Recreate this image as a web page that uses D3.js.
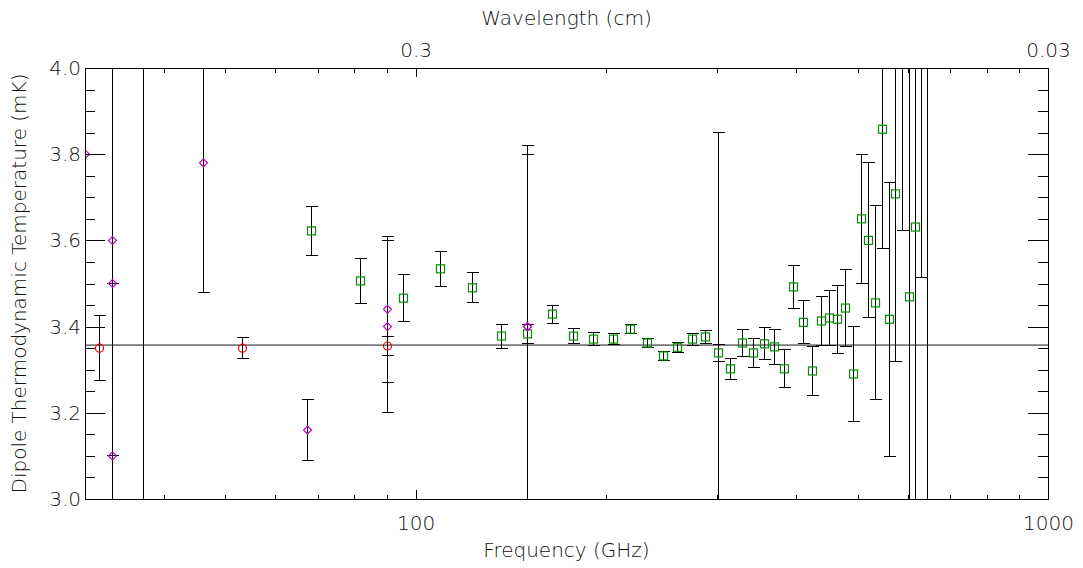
<!DOCTYPE html>
<html><head><meta charset="utf-8">
<script src="https://cdn.jsdelivr.net/npm/d3@7"></script>
<style>
body{margin:0;background:#fff;}
svg{display:block;}
text{font-family:"DejaVu Sans ExtraLight","DejaVu Sans",sans-serif;font-weight:200;font-size:20px;fill:#111;}
</style></head><body>
<svg id="c" width="1083" height="568"></svg>
<script>
// ---------- data ----------
// FIRAS-like points: green squares
const squareFreq = [68.4, 81.7, 95.6, 109.4, 122.9, 136.6, 150.1, 164.5, 177.5, 191.0,
  205.4, 218.5, 232.5, 246.4, 259.3, 273.9, 287.2, 301.1, 314.6, 328.6,
  342.1, 356.0, 369.3, 382.9, 395.7, 410.4, 424.0, 438.2, 451.1, 464.5,
  478.2, 492.3, 506.9, 520.0, 533.5, 547.3, 561.3, 573.7, 588.6, 603.8,
  617.2, 630.8, 644.8];
const squareT = [3.622, 3.506, 3.466, 3.534, 3.490, 3.378, 3.383, 3.429, 3.378, 3.371,
  3.371, 3.394, 3.362, 3.332, 3.352, 3.371, 3.376, 3.339, 3.302, 3.362,
  3.339, 3.360, 3.353, 3.302, 3.492, 3.410, 3.297, 3.413, 3.420, 3.417,
  3.443, 3.290, 3.650, 3.600, 3.455, 3.858, 3.417, 3.708, 4.250, 3.469,
  3.631, 4.300, 2.600];
const squareErr = [0.056, 0.053, 0.055, 0.040, 0.035, 0.028, 0.023, 0.021, 0.018, 0.015,
  0.012, 0.011, 0.010, 0.011, 0.012, 0.014, 0.016, 0.020, 0.024, 0.031,
  0.034, 0.037, 0.040, 0.044, 0.049, 0.050, 0.056, 0.056, 0.063, 0.079,
  0.090, 0.110, 0.150, 0.180, 0.225, 0.276, 0.318, 0.390, 0.628, 0.800,
  0.900, 0.785, 1.600];

// magenta diamonds
const diamondFreq = [30.0, 33.1, 33.1, 33.1, 46.1, 67.4, 90.2, 90.2, 150.1, 150.1];
const diamondT    = [3.80, 3.60, 3.50, 3.10, 3.78, 3.16, 3.44, 3.40, 3.40, 3.40];
const diamondErr  = [1.00, 0.50, 0.60, 0.40, 0.30, 0.07, 0.17, 0.20, 0.42, 0.40];

// red circles
const circleFreq = [31.6, 53.2, 90.2];
const circleT    = [3.350, 3.350, 3.355];
const circleErr  = [0.075, 0.024, 0.023];

// error bars whose symbols fall outside / are hidden
const hiddenFreq = [37.1, 301.1];
const hiddenT    = [3.50, 3.35];
const hiddenErr  = [1.00, 0.50];

// reference dipole level
const refT = 3.357;

// axes
const freqMajorTicks = [100, 1000];
const freqMajorLabels = ["100", "1000"];
const freqMinorTicks = [40, 50, 60, 70, 80, 90, 200, 300, 400, 500, 600, 700, 800, 900];
const waveMajorTicks = [0.3, 0.03];
const waveMajorLabels = ["0.3", "0.03"];
const tMajorTicks = [3.0, 3.2, 3.4, 3.6, 3.8, 4.0];
const tMajorLabels = ["3.0", "3.2", "3.4", "3.6", "3.8", "4.0"];
const tMinorTicks = [3.05, 3.1, 3.15, 3.25, 3.3, 3.35, 3.45, 3.5, 3.55, 3.65, 3.7, 3.75, 3.85, 3.9, 3.95];

const xTitle = "Frequency (GHz)";
const topTitle = "Wavelength (cm)";
const yTitle = "Dipole Thermodynamic Temperature (mK)";

// ---------- drawing ----------
const svg = d3.select("#c");
const L = 85, R = 1048, T = 68, B = 499;
const x = d3.scaleLog().domain([30, 1000]).range([L, R]);
const xw = d3.scaleLog().domain([1, 0.03]).range([L, R]);
const y = d3.scaleLinear().domain([3, 4]).range([B, T]);

svg.append("defs").append("clipPath").attr("id", "clip")
  .append("rect").attr("x", L).attr("y", T).attr("width", R - L).attr("height", B - T);

const plot = svg.append("g").attr("clip-path", "url(#clip)");

// reference line
plot.append("line")
  .attr("x1", L).attr("x2", R).attr("y1", y(refT)).attr("y2", y(refT))
  .attr("stroke", "#7a7a7a").attr("stroke-width", 1.6);

function zip(f, v, e) { return f.map((d, i) => ({f: d, v: v[i], e: e[i]})); }
const squares = zip(squareFreq, squareT, squareErr);
const diamonds = zip(diamondFreq, diamondT, diamondErr);
const circles = zip(circleFreq, circleT, circleErr);
const hidden = zip(hiddenFreq, hiddenT, hiddenErr);

function errorBars(data) {
  const g = plot.append("g").attr("stroke", "#000").attr("stroke-width", 1).attr("shape-rendering", "crispEdges");
  data.forEach(d => {
    const cx = Math.round(x(d.f)) + 0.5;
    g.append("line").attr("x1", cx).attr("x2", cx).attr("y1", y(d.v - d.e)).attr("y2", y(d.v + d.e));
    [d.v - d.e, d.v + d.e].forEach(t => {
      g.append("line").attr("x1", cx - 6).attr("x2", cx + 6).attr("y1", y(t)).attr("y2", y(t));
    });
  });
}
errorBars(hidden);
errorBars(circles);
errorBars(diamonds);
errorBars(squares);

// markers
plot.append("g").selectAll("rect").data(squares).join("rect")
  .attr("x", d => Math.round(x(d.f)) + 0.5 - 4).attr("y", d => y(d.v) - 4)
  .attr("width", 8).attr("height", 8)
  .attr("fill", "none").attr("stroke", "#009000").attr("stroke-width", 1.2);

plot.append("g").selectAll("path").data(diamonds).join("path")
  .attr("d", d => {
    const cx = Math.round(x(d.f)) + 0.5, cy = y(d.v);
    return `M${cx},${cy - 4}L${cx + 4},${cy}L${cx},${cy + 4}L${cx - 4},${cy}Z`;
  })
  .attr("fill", "none").attr("stroke", "#c800d0").attr("stroke-width", 1.2);

plot.append("g").selectAll("circle").data(circles).join("circle")
  .attr("cx", d => Math.round(x(d.f)) + 0.5).attr("cy", d => y(d.v)).attr("r", 4)
  .attr("fill", "none").attr("stroke", "#e80000").attr("stroke-width", 1.2);

// axes (ticks inward, IDL style)
function styleAxis(g) {
  g.select(".domain").remove();
  g.selectAll("line").attr("stroke", "#000").attr("shape-rendering", "crispEdges");
  g.selectAll("text").attr("font-family", null).attr("font-size", null).attr("fill", "#111");
}
// bottom
svg.append("g").attr("transform", `translate(0,${B})`)
  .call(d3.axisBottom(x).tickValues(freqMinorTicks).tickSize(-4.5).tickFormat(""))
  .call(styleAxis);
svg.append("g").attr("transform", `translate(0,${B})`)
  .call(d3.axisBottom(x).tickValues(freqMajorTicks).tickSize(-9).tickPadding(17)
    .tickFormat((d, i) => freqMajorLabels[i]))
  .call(styleAxis);
// top (same tick positions, wavelength labels)
svg.append("g").attr("transform", `translate(0,${T})`)
  .call(d3.axisTop(xw).tickValues(freqMinorTicks.map(f => 30 / f)).tickSize(-4.5).tickFormat(""))
  .call(styleAxis);
svg.append("g").attr("transform", `translate(0,${T})`)
  .call(d3.axisTop(xw).tickValues(waveMajorTicks).tickSize(-9).tickPadding(11)
    .tickFormat((d, i) => waveMajorLabels[i]))
  .call(styleAxis);
// left
svg.append("g").attr("transform", `translate(${L},0)`)
  .call(d3.axisLeft(y).tickValues(tMinorTicks).tickSize(-10).tickFormat(""))
  .call(styleAxis);
svg.append("g").attr("transform", `translate(${L},0)`)
  .call(d3.axisLeft(y).tickValues(tMajorTicks).tickSize(-20).tickPadding(4)
    .tickFormat((d, i) => tMajorLabels[i]))
  .call(styleAxis);
// right
svg.append("g").attr("transform", `translate(${R},0)`)
  .call(d3.axisRight(y).tickValues(tMinorTicks).tickSize(-10).tickFormat(""))
  .call(styleAxis);
svg.append("g").attr("transform", `translate(${R},0)`)
  .call(d3.axisRight(y).tickValues(tMajorTicks).tickSize(-20).tickFormat(""))
  .call(styleAxis);

// frame
svg.append("rect").attr("x", L + 0.5).attr("y", T + 0.5).attr("width", R - L).attr("height", B - T)
  .attr("fill", "none").attr("stroke", "#000").attr("stroke-width", 1).attr("shape-rendering", "crispEdges");

// titles
svg.append("text").attr("x", (L + R) / 2).attr("y", 557).attr("text-anchor", "middle").text(xTitle);
svg.append("text").attr("x", (L + R) / 2).attr("y", 25).attr("text-anchor", "middle").text(topTitle);
svg.append("text").attr("transform", `translate(26,${(T + B) / 2}) rotate(-90)`)
  .attr("text-anchor", "middle").text(yTitle);
</script>
</body></html>
